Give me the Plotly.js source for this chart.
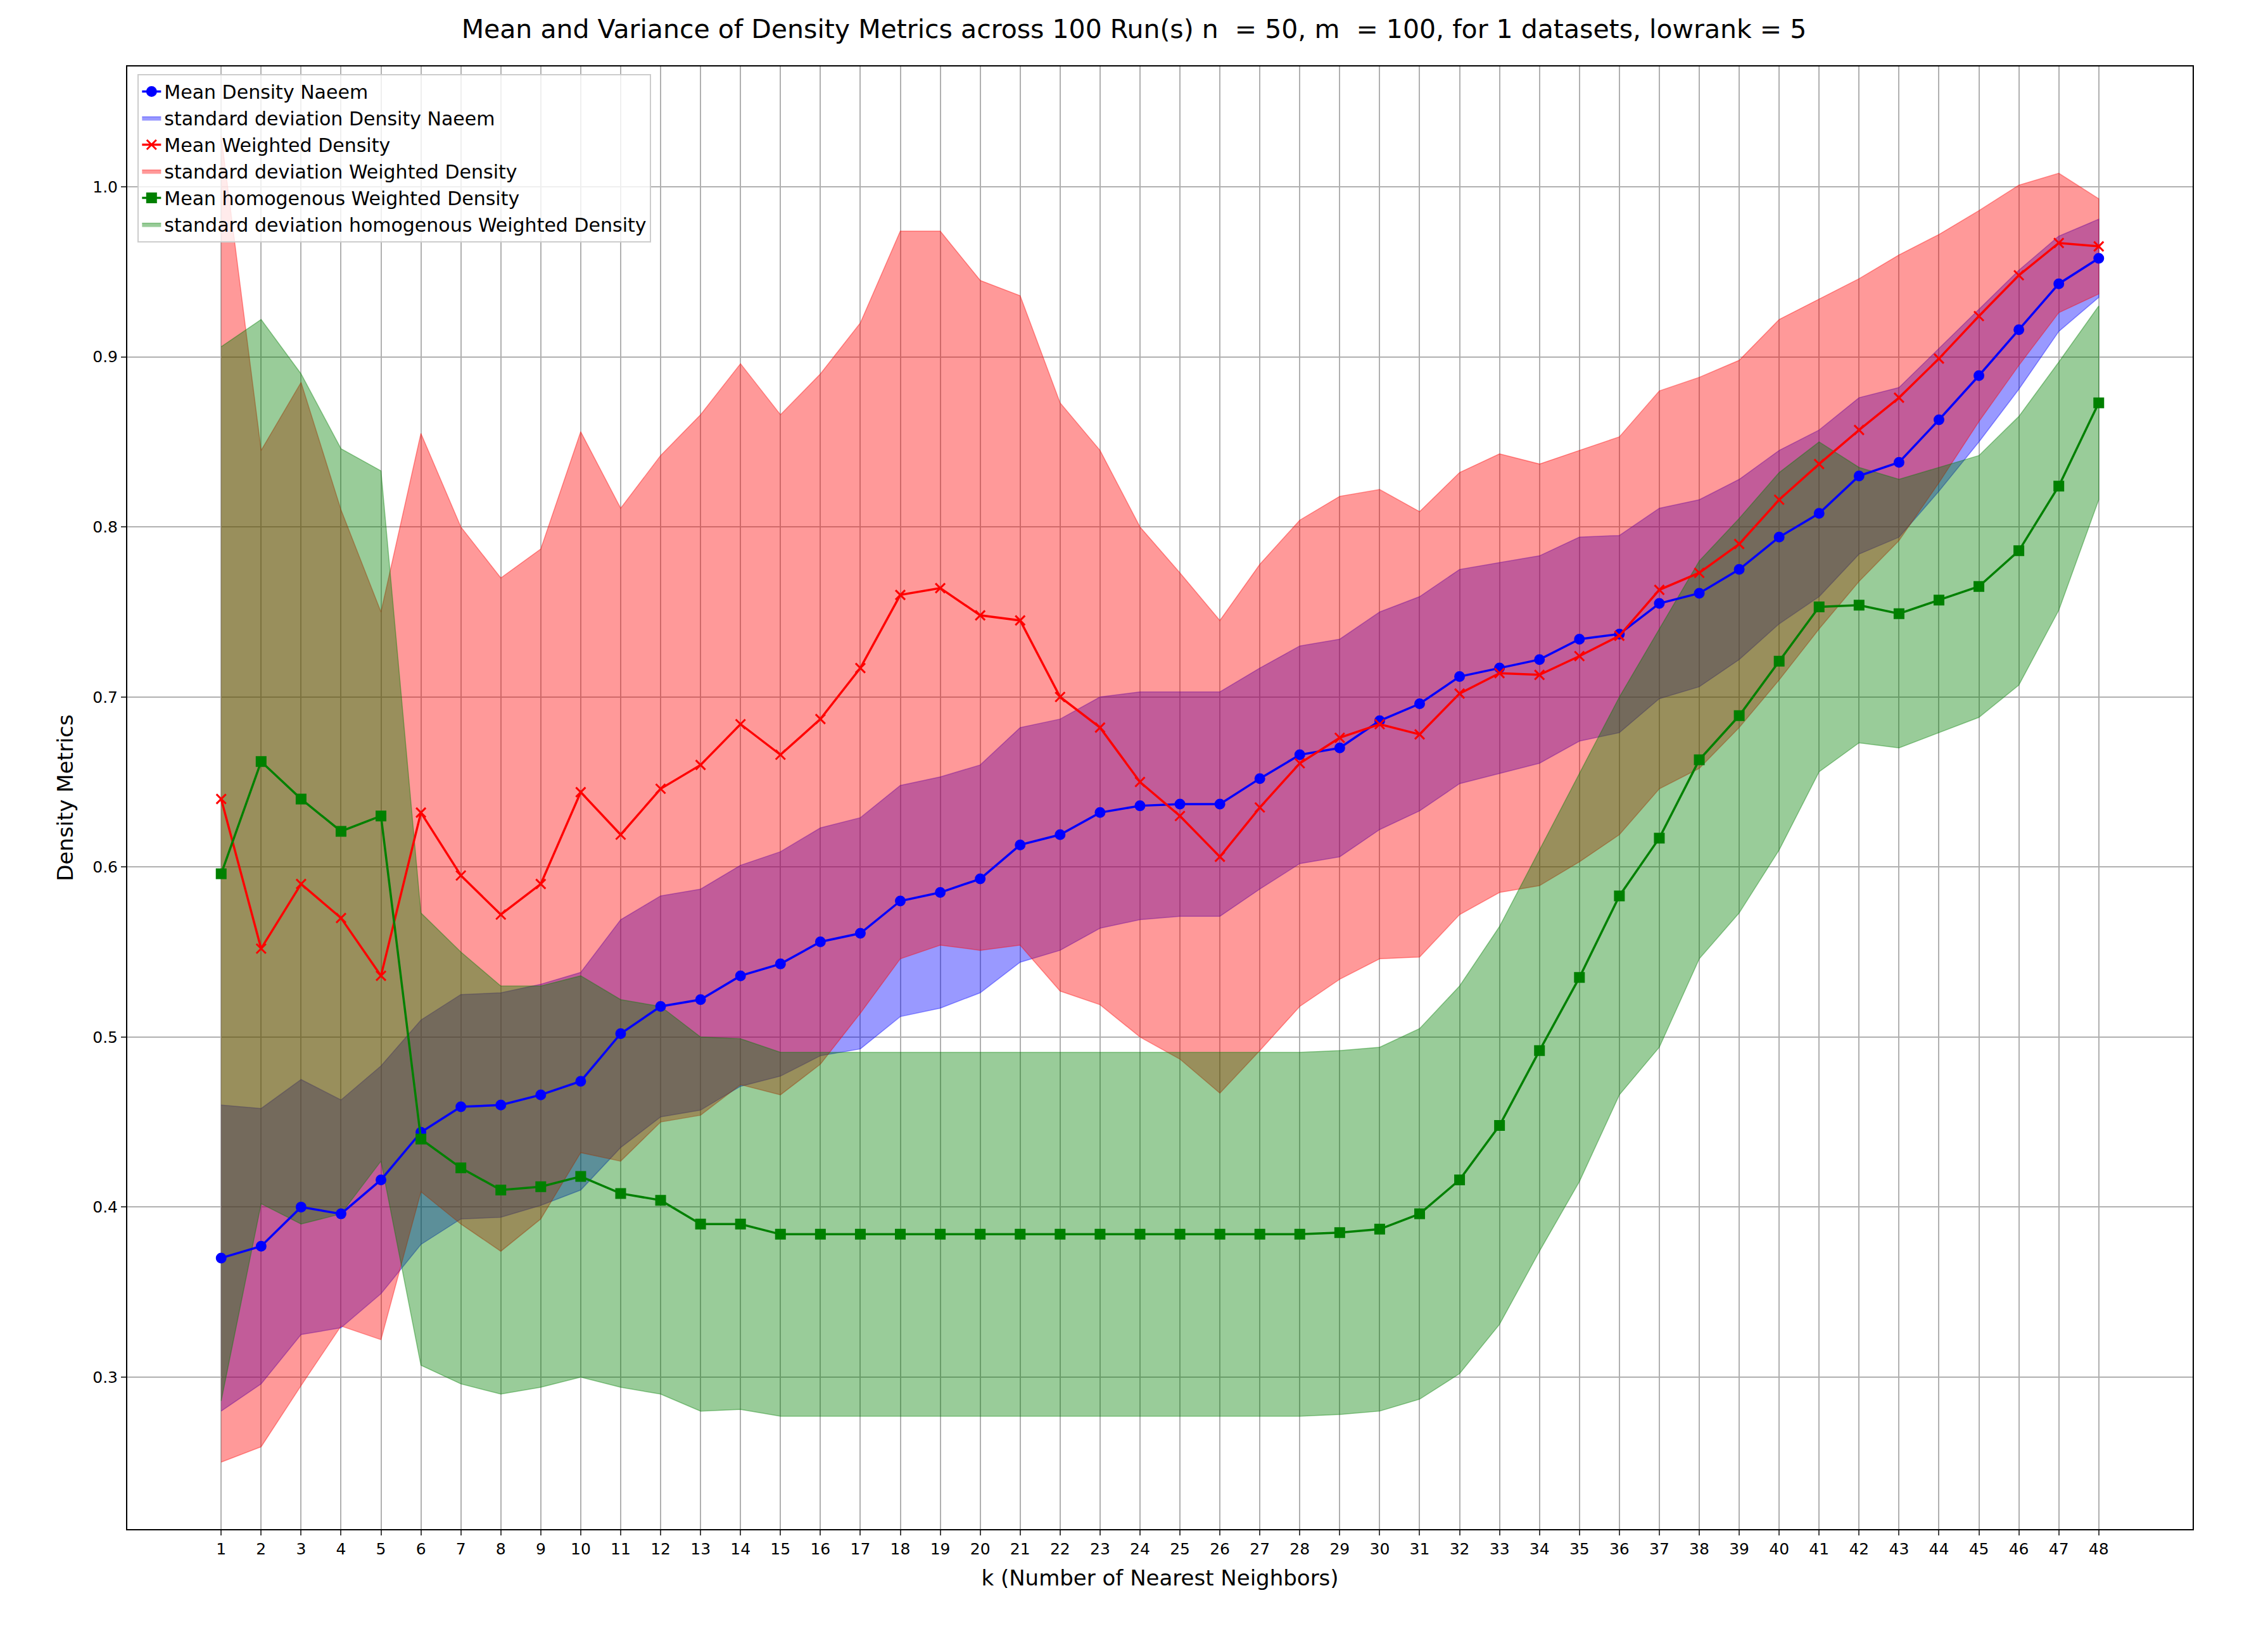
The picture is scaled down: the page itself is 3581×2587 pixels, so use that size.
<!DOCTYPE html>
<html>
<head>
<meta charset="utf-8">
<script src="https://cdn.plot.ly/plotly-3.0.1.min.js"></script>
<style>body{margin:0;background:#fff}#chart{width:3581px;height:2587px}</style>
</head>
<body>
<div id="chart"></div>
<script>
// neighbours k = 1..48
const k = Array.from({length: 48}, (_, i) => i + 1)

const naeemMean = [0.370,0.377,0.400,0.396,0.416,0.444,0.459,0.460,0.466,0.474,0.502,0.518,0.522,0.536,0.543,0.556,0.561,0.580,0.585,0.593,0.613,0.619,0.632,0.636,0.637,0.637,0.652,0.666,0.670,0.686,0.696,0.712,0.717,0.722,0.734,0.737,0.755,0.761,0.775,0.794,0.808,0.830,0.838,0.863,0.889,0.916,0.943,0.958]
const naeemStd = [0.090,0.081,0.075,0.067,0.067,0.066,0.066,0.066,0.065,0.064,0.067,0.065,0.065,0.065,0.066,0.067,0.068,0.068,0.068,0.067,0.069,0.068,0.068,0.067,0.066,0.066,0.065,0.064,0.064,0.064,0.063,0.063,0.062,0.061,0.060,0.058,0.056,0.055,0.053,0.051,0.049,0.046,0.044,0.042,0.039,0.035,0.028,0.023]

const weightedMean = [0.640,0.552,0.590,0.570,0.536,0.632,0.595,0.572,0.590,0.644,0.619,0.646,0.660,0.684,0.666,0.687,0.717,0.760,0.764,0.748,0.745,0.700,0.682,0.650,0.630,0.606,0.635,0.661,0.676,0.684,0.678,0.702,0.714,0.713,0.724,0.736,0.763,0.773,0.790,0.816,0.837,0.857,0.876,0.899,0.924,0.948,0.967,0.965]
const weightedStd = [0.390,0.293,0.295,0.240,0.214,0.223,0.205,0.198,0.197,0.212,0.192,0.196,0.206,0.212,0.200,0.203,0.203,0.214,0.210,0.197,0.191,0.173,0.163,0.150,0.143,0.139,0.143,0.143,0.142,0.138,0.131,0.130,0.129,0.124,0.121,0.117,0.117,0.115,0.108,0.106,0.097,0.089,0.084,0.073,0.062,0.053,0.041,0.028]

const homoMean = [0.596,0.662,0.640,0.621,0.630,0.440,0.423,0.410,0.412,0.418,0.408,0.404,0.390,0.390,0.384,0.384,0.384,0.384,0.384,0.384,0.384,0.384,0.384,0.384,0.384,0.384,0.384,0.384,0.385,0.387,0.396,0.416,0.448,0.492,0.535,0.583,0.617,0.663,0.689,0.721,0.753,0.754,0.749,0.757,0.765,0.786,0.824,0.873]
const homoStd = [0.310,0.260,0.250,0.225,0.203,0.133,0.127,0.120,0.118,0.118,0.114,0.114,0.110,0.109,0.107,0.107,0.107,0.107,0.107,0.107,0.107,0.107,0.107,0.107,0.107,0.107,0.107,0.107,0.107,0.107,0.109,0.114,0.117,0.118,0.120,0.117,0.123,0.117,0.116,0.111,0.097,0.081,0.079,0.078,0.077,0.079,0.073,0.057]

function band (mean, std, name, fill, line, rank) {
  const up = mean.map((m, i) => m + std[i])
  const lo = mean.map((m, i) => m - std[i]).reverse()
  return {
    x: k.concat(k.slice().reverse()), y: up.concat(lo),
    type: 'scatter', mode: 'lines', fill: 'toself', fillcolor: fill,
    line: {color: line, width: 1.5}, name: name, legendrank: rank, hoverinfo: 'skip'
  }
}
function meanLine (mean, name, color, symbol, rank) {
  return {
    x: k, y: mean, type: 'scatter', mode: 'lines+markers', name: name, legendrank: rank,
    line: {color: color, width: 3.5},
    marker: {color: color, size: symbol === 'x-thin' ? 15 : 14, symbol: symbol, line: {color: color, width: 3}}
  }
}

const data = [
  band(naeemMean, naeemStd, 'standard deviation Density Naeem', 'rgba(0,0,255,0.4)', 'rgba(0,0,255,0.4)', 2),
  band(weightedMean, weightedStd, 'standard deviation Weighted Density', 'rgba(255,0,0,0.4)', 'rgba(255,0,0,0.4)', 4),
  band(homoMean, homoStd, 'standard deviation homogenous Weighted Density', 'rgba(0,128,0,0.4)', 'rgba(0,128,0,0.4)', 6),
  meanLine(naeemMean, 'Mean Density Naeem', 'blue', 'circle', 1),
  meanLine(weightedMean, 'Mean Weighted Density', 'red', 'x-thin', 3),
  meanLine(homoMean, 'Mean homogenous Weighted Density', 'green', 'square', 5)
]

const layout = {
  width: 3581, height: 2587,
  paper_bgcolor: 'white', plot_bgcolor: 'white',
  font: {family: 'DejaVu Sans', color: 'black', size: 25},
  margin: {l: 201, r: 119, t: 105, b: 172},
  title: {text: 'Mean and Variance of Density Metrics across 100 Run(s) n  = 50, m  = 100, for 1 datasets, lowrank = 5',
    font: {size: 41}, x: 0.5, xanchor: 'center', y: 0.988, yanchor: 'top'},
  xaxis: {
    range: [-1.35, 50.35], tickmode: 'array', tickvals: k, ticktext: k.map(String),
    showgrid: true, gridcolor: '#b0b0b0', gridwidth: 2, zeroline: false,
    showline: true, linecolor: 'black', linewidth: 2, mirror: true,
    ticks: 'outside', ticklen: 8, tickwidth: 2,
    title: {text: 'k (Number of Nearest Neighbors)', font: {size: 34}, standoff: 20}
  },
  yaxis: {
    range: [0.2106, 1.0708], tickvals: [0.3, 0.4, 0.5, 0.6, 0.7, 0.8, 0.9, 1.0],
    ticktext: ['0.3', '0.4', '0.5', '0.6', '0.7', '0.8', '0.9', '1.0'],
    showgrid: true, gridcolor: '#b0b0b0', gridwidth: 2, zeroline: false,
    showline: true, linecolor: 'black', linewidth: 2, mirror: true,
    ticks: 'outside', ticklen: 8, tickwidth: 2,
    title: {text: 'Density Metrics', font: {size: 34}, standoff: 20}
  },
  legend: {
    x: 0.005, y: 0.995, xanchor: 'left', yanchor: 'top',
    bgcolor: 'rgba(255,255,255,0.8)', bordercolor: '#cccccc', borderwidth: 2,
    font: {size: 30}, tracegroupgap: 0, traceorder: 'normal'
  },
  showlegend: true
}

Plotly.newPlot('chart', data, layout, {staticPlot: true})
</script>
</body>
</html>
